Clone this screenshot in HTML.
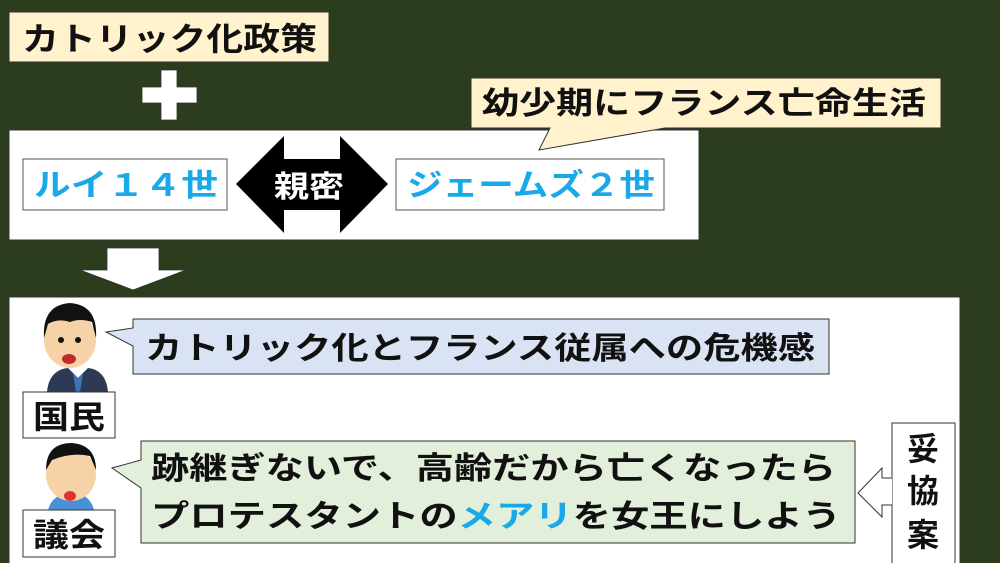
<!DOCTYPE html>
<html><head><meta charset="utf-8"><style>
html,body{margin:0;padding:0;background:#2b3d1c;}
svg{display:block}
text{font-family:"Liberation Sans","Noto Sans CJK JP",sans-serif;font-weight:bold;}
</style></head><body>
<svg width="1000" height="563" viewBox="0 0 1000 563" xmlns="http://www.w3.org/2000/svg">
<rect width="1000" height="563" fill="#2b3d1c"/>
<!-- title -->
<rect x="9" y="12" width="320" height="50" fill="#fff2cc" stroke="#333" stroke-width="1"/>
<text x="22" y="50" font-size="32" fill="#111" textLength="295" lengthAdjust="spacingAndGlyphs">カトリック化政策</text>
<!-- plus -->
<path d="M161 70h16v17h20v16h-20v17h-16v-17h-19v-16h19z" fill="#fff" stroke="#333" stroke-width="0.8"/>
<!-- box1 -->
<rect x="9" y="130" width="690" height="110" fill="#fff" stroke="#333" stroke-width="1"/>
<rect x="23" y="159" width="204" height="51" fill="#fff" stroke="#555" stroke-width="1"/>
<text x="34" y="196" font-size="31" fill="#1aa9e8" textLength="184" lengthAdjust="spacingAndGlyphs">ルイ１４世</text>
<path d="M236 184L284 136V159H340V136L388 184L340 233V210H284V233Z" fill="#000"/>
<text x="274" y="197" font-size="30" fill="#fff" textLength="70" lengthAdjust="spacingAndGlyphs">親密</text>
<rect x="396" y="159" width="268" height="51" fill="#fff" stroke="#555" stroke-width="1"/>
<text x="407" y="196" font-size="31" fill="#1aa9e8" textLength="248" lengthAdjust="spacingAndGlyphs">ジェームズ２世</text>
<!-- callout -->
<path d="M471 78H941V128H665L539 150L550 128H471Z" fill="#fff2cc" stroke="#333" stroke-width="1"/>
<text x="482" y="114" font-size="31" fill="#111" textLength="444" lengthAdjust="spacingAndGlyphs">幼少期にフランス亡命生活</text>
<!-- down arrow -->
<path d="M107 248H159V270H186L133 290L80 270H107Z" fill="#fff" stroke="#333" stroke-width="0.8"/>
<!-- big box -->
<rect x="9" y="297" width="951" height="270" fill="#fff" stroke="#333" stroke-width="1"/>
<!-- speech 1 -->
<path d="M133 319H829V374H133V346L106 332L133 328Z" fill="#dae3f3" stroke="#333" stroke-width="1"/>
<text x="145" y="359" font-size="31" fill="#111" textLength="670" lengthAdjust="spacingAndGlyphs">カトリック化とフランス従属への危機感</text>
<!-- person 1 -->
<path d="M47 392Q49 370 68 368L78 378L88 368Q106 370 108 392Z" fill="#2c3a55"/>
<path d="M73 373L78 378L83 373L80 392H76Z" fill="#3b74b8"/>
<ellipse cx="70" cy="340" rx="26" ry="28" fill="#f7d2a7"/>
<path d="M44 338Q42 305 70 303Q98 305 96 338L92 322Q80 318 70 322Q58 318 48 324Z" fill="#111"/>
<ellipse cx="69" cy="359" rx="7" ry="5" fill="#c2282f"/>
<circle cx="61" cy="340" r="3" fill="#111"/><circle cx="78" cy="340" r="3" fill="#111"/>
<rect x="23" y="392" width="92" height="46" fill="#fff" stroke="#333" stroke-width="1"/>
<text x="33" y="428" font-size="32" fill="#111" textLength="72" lengthAdjust="spacingAndGlyphs">国民</text>
<!-- speech 2 -->
<path d="M141 441H855V543H141V488L112 468L141 460Z" fill="#e2efda" stroke="#333" stroke-width="1"/>
<text x="151" y="479" font-size="31" fill="#111" textLength="685" lengthAdjust="spacingAndGlyphs">跡継ぎないで、高齢だから亡くなったら</text>
<text x="151" y="527" font-size="31" fill="#111" textLength="690" lengthAdjust="spacingAndGlyphs">プロテスタントの<tspan fill="#1aa9e8">メアリ</tspan>を女王にしよう</text>
<!-- person 2 -->
<path d="M48 510Q52 494 72 492Q90 494 94 510Z" fill="#4a90d8"/>
<ellipse cx="71" cy="475" rx="25" ry="26" fill="#f7d2a7"/>
<path d="M46 470Q46 443 72 443Q96 445 96 470L90 456Q72 452 52 460Z" fill="#111"/>
<ellipse cx="70" cy="496" rx="6" ry="5" fill="#d33"/>
<rect x="23" y="510" width="92" height="47" fill="#fff" stroke="#333" stroke-width="1"/>
<text x="33" y="546" font-size="32" fill="#111" textLength="72" lengthAdjust="spacingAndGlyphs">議会</text>
<!-- 妥協案 -->
<rect x="892" y="423" width="63" height="142" fill="#fff" stroke="#333" stroke-width="1"/>
<text x="907" y="460" font-size="32" fill="#111">妥</text>
<text x="907" y="502" font-size="32" fill="#111">協</text>
<text x="907" y="546" font-size="32" fill="#111">案</text>
<path d="M892 478H882V468L858 493L882 517V505H892" fill="#fff" stroke="#333" stroke-width="1"/>
</svg>
</body></html>
